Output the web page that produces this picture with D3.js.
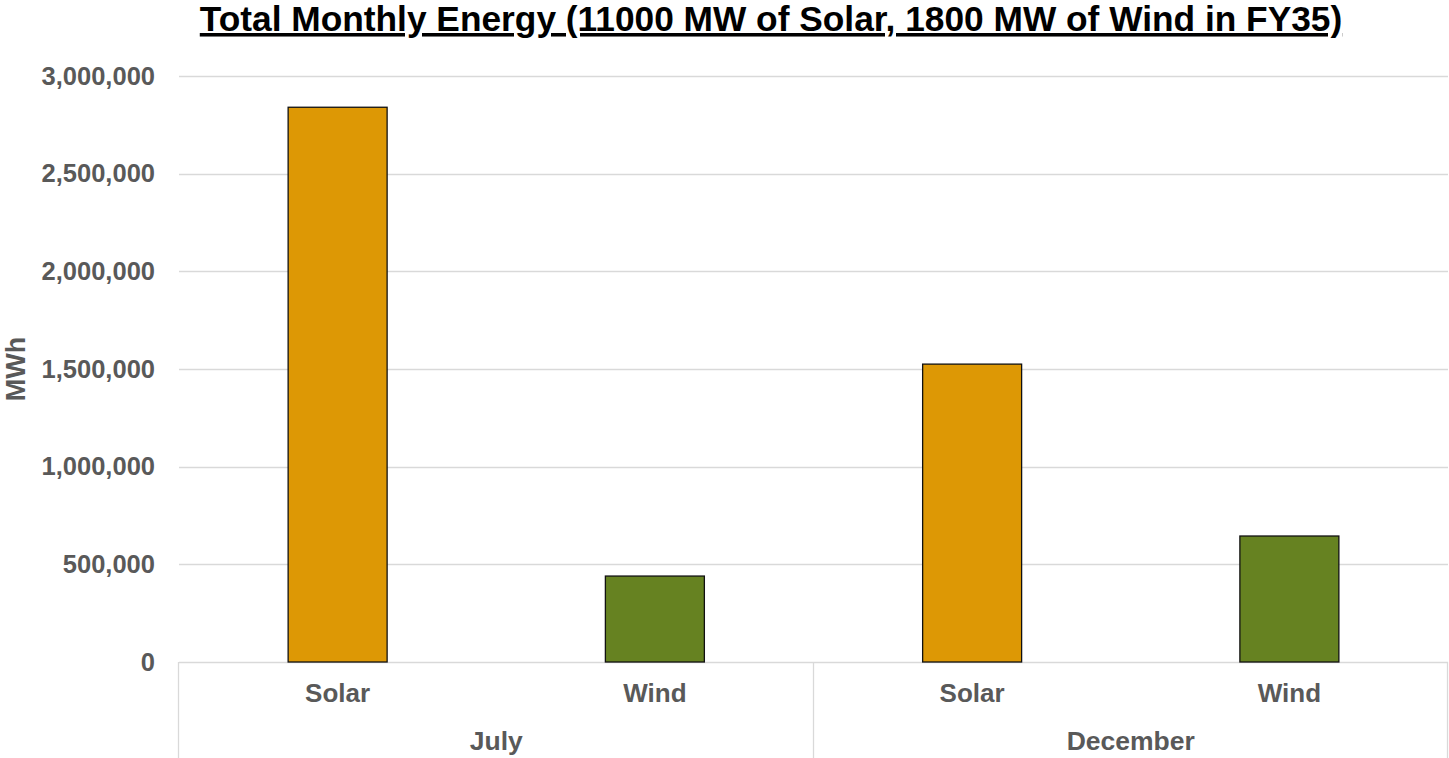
<!DOCTYPE html>
<html>
<head>
<meta charset="utf-8">
<script src="https://cdn.jsdelivr.net/npm/d3@7"></script>
<style>
  body { margin: 0; background: #fff; }
  text { font-family: Arial, "Liberation Sans", sans-serif; }
</style>
</head>
<body>
<script>
// chart data
const months = ["July", "December"];
const sources = ["Solar", "Wind"];
const solarValues = [2840000, 1525000];
const windValues = [440000, 645000];
const yTicks = [0, 500000, 1000000, 1500000, 2000000, 2500000, 3000000];

const W = 1449, H = 758;
const margin = { left: 179, right: 1, top: 76, bottom: 96 };
const innerH = H - margin.top - margin.bottom; // 586

const svg = d3.select("body").append("svg")
  .attr("width", W)
  .attr("height", H);

// flatten to one bar per month/source
let bars = [];
months.forEach((m, i) => {
  bars.push({ month: m, source: "Solar", value: solarValues[i] });
  bars.push({ month: m, source: "Wind", value: windValues[i] });
});

const x = d3.scaleBand()
  .domain(bars.map(d => d.month + "|" + d.source))
  .range([margin.left, W - margin.right])
  .paddingInner(0.688)
  .paddingOuter(0.344);

const xMonth = d3.scaleBand()
  .domain(months)
  .range([margin.left, W - margin.right]);

const y = d3.scaleLinear()
  .domain([0, 3000000])
  .range([margin.top + innerH, margin.top]);

const color = d3.scaleOrdinal().domain(sources).range(["#DD9805", "#668221"]);

// gridlines
svg.append("g")
  .selectAll("line")
  .data(yTicks)
  .enter()
  .append("line")
  .attr("x1", margin.left)
  .attr("x2", W - margin.right)
  .attr("y1", d => Math.round(y(d)) + 0.5)
  .attr("y2", d => Math.round(y(d)) + 0.5)
  .attr("stroke", "#d9d9d9")
  .attr("stroke-width", 1.3);

// y axis labels
const yAxis = d3.axisLeft(y)
  .tickValues(yTicks)
  .tickFormat(d3.format(","))
  .tickSize(0)
  .tickPadding(24);

svg.append("g")
  .attr("transform", "translate(" + margin.left + ",0)")
  .call(yAxis)
  .call(g => g.select(".domain").remove())
  .selectAll("text")
  .attr("fill", "#595959")
  .style("font-family", "Arial, 'Liberation Sans', sans-serif")
  .style("font-size", "25.5px")
  .style("font-weight", "bold");

// bars
svg.append("g")
  .selectAll("rect")
  .data(bars)
  .enter()
  .append("rect")
  .attr("x", d => x(d.month + "|" + d.source))
  .attr("width", x.bandwidth())
  .attr("y", d => y(d.value))
  .attr("height", d => y(0) - y(d.value))
  .attr("fill", d => color(d.source))
  .attr("stroke", "#111")
  .attr("stroke-width", 1.3);

// category separators
const bottomY = y(0);
const sepX = [margin.left, xMonth("December"), W - margin.right];
svg.append("g")
  .selectAll("line")
  .data(sepX)
  .enter()
  .append("line")
  .attr("x1", d => Math.round(d) - 0.5)
  .attr("x2", d => Math.round(d) - 0.5)
  .attr("y1", bottomY)
  .attr("y2", H)
  .attr("stroke", "#d9d9d9")
  .attr("stroke-width", 1.3);

// source labels
svg.append("g")
  .selectAll("text")
  .data(bars)
  .enter()
  .append("text")
  .attr("x", d => x(d.month + "|" + d.source) + x.bandwidth() / 2)
  .attr("y", 702)
  .attr("text-anchor", "middle")
  .attr("fill", "#595959")
  .style("font-size", "26px")
  .style("font-weight", "bold")
  .text(d => d.source);

// month labels
svg.append("g")
  .selectAll("text")
  .data(months)
  .enter()
  .append("text")
  .attr("x", d => xMonth(d) + xMonth.bandwidth() / 2)
  .attr("y", 750)
  .attr("text-anchor", "middle")
  .attr("fill", "#595959")
  .style("font-size", "26.5px")
  .style("font-weight", "bold")
  .text(d => d);

// y axis title
svg.append("text")
  .attr("transform", "translate(25,369) rotate(-90)")
  .attr("text-anchor", "middle")
  .attr("fill", "#595959")
  .style("font-size", "27px")
  .style("font-weight", "bold")
  .text("MWh");

// title
svg.append("text")
  .attr("x", 771)
  .attr("y", 31)
  .attr("text-anchor", "middle")
  .attr("fill", "#000")
  .style("font-size", "35.3px")
  .style("font-weight", "bold")
  .style("text-decoration", "underline")
  .style("text-decoration-thickness", "3px")
  .text("Total Monthly Energy (11000 MW of Solar, 1800 MW of Wind in FY35)");
</script>
</body>
</html>
